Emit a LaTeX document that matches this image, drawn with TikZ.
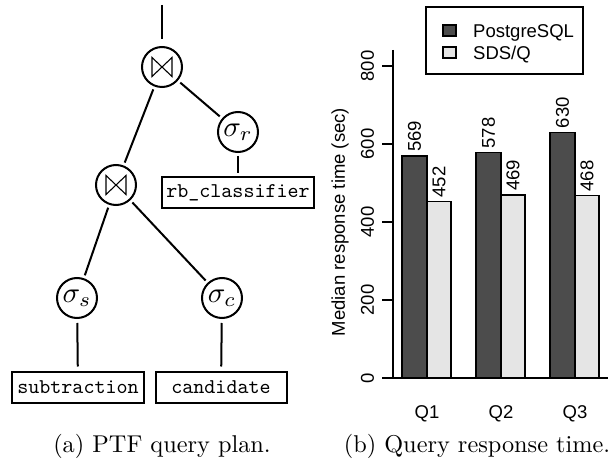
\documentclass[tikz,border=0pt]{standalone}
\usepackage{graphicx}
\usepackage{fontspec}
\newfontfamily\chartfont{Liberation Sans}
\definecolor{bardark}{gray}{0.30}
\definecolor{barlight}{gray}{0.90}
\newcommand{\capscaled}[1]{\scalebox{2.43}{#1}}
\newcommand{\ttscaled}[1]{\scalebox{2.1}{\ttfamily #1}}
\newcommand{\mathscaled}[1]{\scalebox{2.9}{$#1$}}
\begin{document}
\begin{tikzpicture}[x=1pt,y=-1pt,
  opnode/.style={circle,draw,line width=2pt,minimum size=40pt,inner sep=0pt},
  joinnode/.style={opnode,
    path picture={\draw[line width=1.1pt,line join=miter]
      ([shift={(-10pt,9.5pt)}]path picture bounding box.center) -- ++(0pt,-19pt)
      -- ++(20pt,19pt) -- ++(0pt,-19pt) -- cycle;}},
  relnode/.style={draw,line width=2pt,minimum height=31pt,inner sep=3pt},
  treeedge/.style={line width=2pt,shorten <=3pt,shorten >=3pt},
  capnode/.style={anchor=base,inner sep=0pt},
  chartlbl/.style={font=\chartfont\fontsize{18.5}{22}\selectfont,inner sep=0pt},
  barbox/.style={draw,line width=1.5pt},
  axisline/.style={line width=1.8pt}
]
\useasboundingbox (0,0) rectangle (613,462);

% ---------- (a) query plan ----------
\coordinate (top) at (162,5);
\node[joinnode] (j1) at (162,67) {};
\node[opnode] (sr) at (238,132) {\mathscaled{\sigma_r}};
\node[relnode,minimum width=152pt] (rb) at (238,193) {\ttscaled{rb\_classifier}};
\node[joinnode] (j2) at (116,185) {};
\node[opnode] (ss) at (77,298) {\mathscaled{\sigma_s}};
\node[opnode] (sc) at (222,298) {\mathscaled{\sigma_c}};
\node[relnode,minimum width=132pt] (sub) at (78,387) {\ttscaled{subtraction}};
\node[relnode,minimum width=131pt] (cand) at (221,387) {\ttscaled{candidate}};

\draw[treeedge,shorten <=0pt,shorten >=7pt] (top) -- (j1);
\draw[treeedge] (j1) -- (sr);
\draw[treeedge] (sr) -- (rb);
\draw[treeedge] (j1) -- (j2);
\draw[treeedge] (j2) -- (ss);
\draw[treeedge] (j2) -- (sc);
\draw[treeedge,shorten <=4pt,shorten >=4pt] (ss) -- (sub);
\draw[treeedge,shorten <=4pt,shorten >=4pt] (sc) -- (cand);

\node[capnode] (capa) at (162,452) {\capscaled{(a) PTF query plan.}};

% ---------- (b) bar chart ----------
\draw[axisline] (393,50) -- (393,378);
\foreach \v/\yy in {0/378,200/300,400/222,600/144,800/66}{
  \draw[axisline] (382,\yy) -- (393,\yy);
  \node[chartlbl,rotate=90] at (367.5,\yy) {\v};
}
\draw[axisline] (382,378) -- (608,378);
\node[chartlbl,rotate=90] (ylab) at (340,222) {Median response time (sec)};

\foreach \xa/\xb/\yt/\val/\col in {
  402/427/156.1/569/bardark, 427/451/201.7/452/barlight,
  476/501/152.6/578/bardark, 501/525/195.1/469/barlight,
  550/575/132.3/630/bardark, 575/599/195.5/468/barlight}{
  \draw[barbox,fill=\col] (\xa,378) rectangle (\xb,\yt);
  \node[chartlbl,rotate=90,anchor=west] at ({(\xa+\xb)/2},{\yt-4}) {\val};
}

\node[chartlbl,anchor=base] (q1) at (427,418) {Q1};
\node[chartlbl,anchor=base] (q2) at (501,418) {Q2};
\node[chartlbl,anchor=base] (q3) at (575,418) {Q3};

\draw[line width=1.5pt] (426,7) rectangle (583,74);
\draw[line width=1.5pt,fill=bardark] (443,25) rectangle (456,36);
\draw[line width=1.5pt,fill=barlight] (443,47) rectangle (456,58);
\node[chartlbl,anchor=base west] (lg1) at (473,38) {PostgreSQL};
\node[chartlbl,anchor=base west] (lg2) at (473,60) {SDS/Q};

\node[capnode] (capb) at (477,452) {\capscaled{(b) Query response time.}};
\end{tikzpicture}
\end{document}
